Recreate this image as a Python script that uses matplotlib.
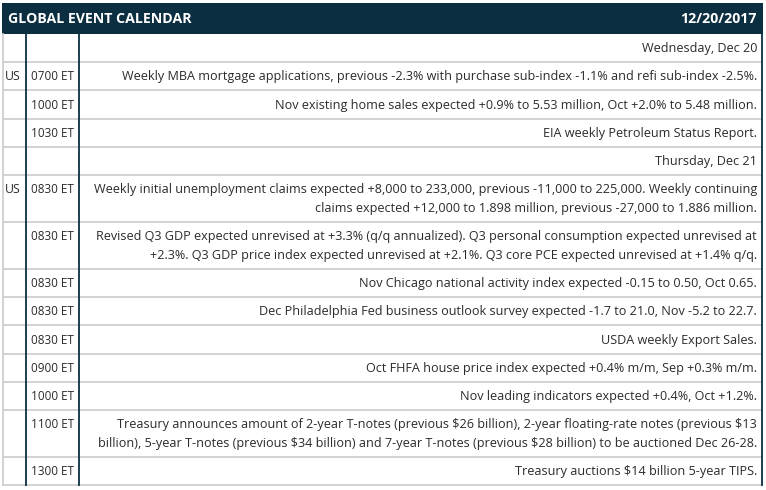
import matplotlib.pyplot as plt
from matplotlib.lines import Line2D

title = "GLOBAL EVENT CALENDAR"
report_date = "12/20/2017"

countries = ["", "US", "", "", "", "US", "", "", "", "", "", "", "", ""]
times = ["", "0700 ET", "1000 ET", "1030 ET", "", "0830 ET", "0830 ET", "0830 ET",
         "0830 ET", "0830 ET", "0900 ET", "1000 ET", "1100 ET", "1300 ET"]
events = [
    ["Wednesday, Dec 20"],
    ["Weekly MBA mortgage applications, previous -2.3% with purchase sub-index -1.1% and refi sub-index -2.5%."],
    ["Nov existing home sales expected +0.9% to 5.53 million, Oct +2.0% to 5.48 million."],
    ["EIA weekly Petroleum Status Report."],
    ["Thursday, Dec 21"],
    ["Weekly initial unemployment claims expected +8,000 to 233,000, previous -11,000 to 225,000. Weekly continuing",
     "claims expected +12,000 to 1.898 million, previous -27,000 to 1.886 million."],
    ["Revised Q3 GDP expected unrevised at +3.3% (q/q annualized). Q3 personal consumption expected unrevised at",
     "+2.3%. Q3 GDP price index expected unrevised at +2.1%. Q3 core PCE expected unrevised at +1.4% q/q."],
    ["Nov Chicago national activity index expected -0.15 to 0.50, Oct 0.65."],
    ["Dec Philadelphia Fed business outlook survey expected -1.7 to 21.0, Nov -5.2 to 22.7."],
    ["USDA weekly Export Sales."],
    ["Oct FHFA house price index expected +0.4% m/m, Sep +0.3% m/m."],
    ["Nov leading indicators expected +0.4%, Oct +1.2%."],
    ["Treasury announces amount of 2-year T-notes (previous $26 billion), 2-year floating-rate notes (previous $13",
     "billion), 5-year T-notes (previous $34 billion) and 7-year T-notes (previous $28 billion) to be auctioned Dec 26-28."],
    ["Treasury auctions $14 billion 5-year TIPS."],
]

navy = "#0c2e41"
grid = "#cfcfcf"
txt = "#2b2b2b"
font = ["Open Sans", "DejaVu Sans"]
fs = 9.1

W, H = 766, 490
fig = plt.figure(figsize=(W / 100, H / 100), dpi=100)
ax = fig.add_axes([0, 0, 1, 1])
ax.set_xlim(0, W)
ax.set_ylim(H, 0)
ax.axis("off")

left, right = 2.5, 762
x_c1, x_c2 = 26, 79
head_top, head_bot = 3, 34
one_line, line_gap = 28.2, 18.8

# header bar
ax.add_patch(plt.Rectangle((left - 0.5, head_top), right - left + 1, head_bot - head_top,
                           color=navy, lw=0))
ax.text(8, (head_top + head_bot) / 2 + 0.5, title, color="white", fontsize=10.2,
        fontweight="bold", family=font, va="center", ha="left")
ax.text(757, (head_top + head_bot) / 2 + 0.5, report_date, color="white", fontsize=10.2,
        fontweight="bold", family=font, va="center", ha="right")

# rows
y = head_bot
for c, t, ev in zip(countries, times, events):
    h = one_line + line_gap * (len(ev) - 1)
    first = y + one_line / 2 + 0.5
    ax.text(5, first, c, color=txt, fontsize=8.8, family=font, va="center", ha="left")
    ax.text(31, first, t, color=txt, fontsize=8.5, family=font, va="center", ha="left")
    for k, line in enumerate(ev):
        ax.text(757, first + k * line_gap, line, color=txt, fontsize=fs, family=font,
                va="center", ha="right", parse_math=False)
    y += h
    ax.add_line(Line2D([left, right], [y, y], color=grid, lw=1.3))
bottom = y

# borders
ax.add_line(Line2D([left, left], [head_bot, bottom], color=grid, lw=1.3))
for xv in (x_c1, x_c2, right):
    ax.add_line(Line2D([xv, xv], [head_bot, bottom], color=navy, lw=1.3))

fig.savefig("out.png", dpi=100)
